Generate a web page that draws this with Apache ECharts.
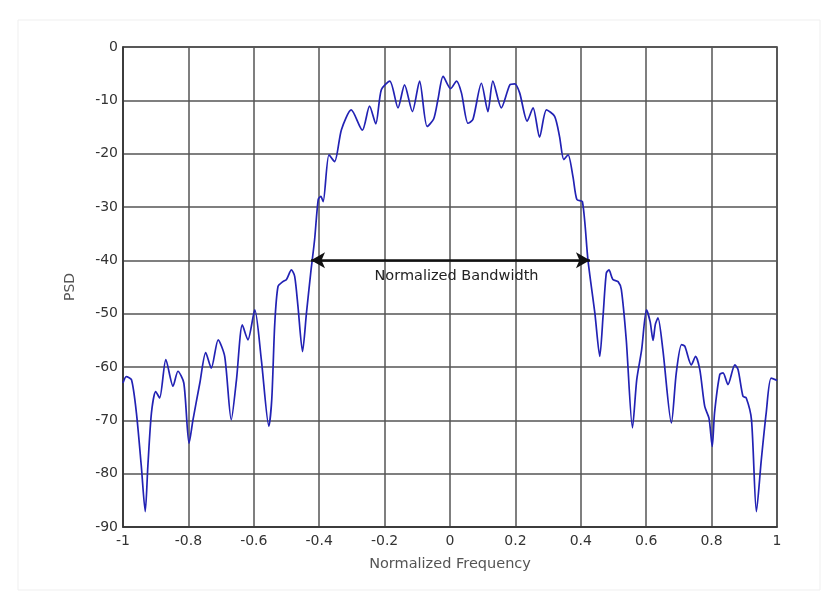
<!DOCTYPE html>
<html>
<head>
<meta charset="utf-8">
<title>PSD</title>
<script src="https://cdn.jsdelivr.net/npm/echarts@6/dist/echarts.min.js"></script>
<style>
  html, body { margin: 0; padding: 0; background: #ffffff; }
  #chart { width: 838px; height: 608px; }
</style>
</head>
<body>
<div id="chart"></div>
<script>
// Normalized frequency samples of the spectrum trace
const freq = [
  -1.000, -0.990, -0.974, -0.959, -0.944, -0.932, -0.924, -0.913, -0.900, -0.888,
  -0.869, -0.847, -0.832, -0.814, -0.798, -0.786, -0.765, -0.747, -0.730, -0.709,
  -0.689, -0.669, -0.653, -0.635, -0.618, -0.597, -0.577, -0.554, -0.545, -0.536,
  -0.526, -0.511, -0.500, -0.485, -0.475, -0.465, -0.451, -0.439, -0.426, -0.414,
  -0.403, -0.395, -0.388, -0.370, -0.353, -0.332, -0.302, -0.268, -0.246, -0.227,
  -0.210, -0.184, -0.159, -0.139, -0.115, -0.093, -0.070, -0.050, -0.037, -0.021,
   0.002,  0.020,  0.035,  0.055,  0.070,  0.096,  0.116,  0.131,  0.157,  0.183,
   0.198,  0.213,  0.236,  0.254,  0.274,  0.295,  0.320,  0.335,  0.348,  0.361,
   0.376,  0.388,  0.405,  0.422,  0.443,  0.458,  0.468,  0.478,  0.486,  0.498,
   0.514,  0.524,  0.539,  0.558,  0.571,  0.586,  0.601,  0.612,  0.621,  0.628,
   0.636,  0.651,  0.677,  0.692,  0.708,  0.718,  0.738,  0.751,  0.764,  0.779,
   0.792,  0.802,  0.809,  0.825,  0.835,  0.850,  0.871,  0.881,  0.896,  0.906,
   0.922,  0.937,  0.952,  0.967,  0.982,  1.000
];

// Power spectral density at each frequency sample (dB)
const psd = [
  -63.0, -61.8, -62.4, -68.6, -78.6, -87.1, -78.6, -68.6, -64.6, -65.8,
  -58.6, -63.6, -60.8, -63.0, -74.3, -69.9, -63.0, -57.3, -60.2, -54.9,
  -58.0, -69.9, -62.4, -52.1, -54.9, -49.3, -58.6, -71.1, -66.0, -52.0,
  -44.9, -44.0, -43.6, -41.8, -43.0, -48.6, -57.1, -49.9, -42.4, -36.1,
  -28.6, -28.0, -29.0, -20.2, -21.5, -15.5, -11.8, -15.6, -11.1, -14.4,
   -8.0,  -6.4, -11.4,  -7.1, -12.1,  -6.4, -14.9, -13.5,  -9.9,  -5.5,
   -7.8,  -6.4,  -8.6, -14.3, -13.6,  -6.8, -12.1,  -6.4, -11.4,  -7.1,
   -6.9,  -8.6, -13.9, -11.4, -16.9, -11.8, -13.0, -16.8, -21.1, -20.2,
  -24.3, -28.6, -29.0, -40.0, -49.9, -58.0, -50.5, -42.4, -41.8, -43.6,
  -44.0, -45.5, -54.9, -71.4, -62.4, -56.8, -49.3, -51.5, -55.0, -52.0,
  -50.8, -56.8, -70.5, -61.1, -55.8, -56.1, -59.6, -58.0, -60.5, -67.4,
  -69.6, -74.9, -68.6, -61.4, -61.1, -63.3, -59.6, -60.5, -65.5, -65.8,
  -69.9, -87.1, -77.4, -68.6, -62.1, -62.5
];

// Bandwidth marker: both ends at the -40 dB crossing
const bandEdges = [-0.425, 0.428];
const bandLevel = [-40, -40];
const bandLabel = 'Normalized Bandwidth';

const xName = 'Normalized Frequency';
const yName = 'PSD';

const points = freq.map((f, i) => [f, psd[i]]);

const chart = echarts.init(document.getElementById('chart'), null, { renderer: 'canvas' });

const tickFont = { color: '#333', fontFamily: 'DejaVu Sans', fontSize: 14 };

chart.setOption({
  animation: false,
  backgroundColor: '#ffffff',
  graphic: [{
    type: 'rect',
    shape: { x: 18, y: 20, width: 802, height: 570 },
    style: { fill: 'none', stroke: '#efefef', lineWidth: 1 },
    silent: true
  }],
  grid: {
    left: 123, right: 61, top: 47, bottom: 81,
    show: true, borderColor: '#333', borderWidth: 1.5,
    containLabel: false
  },
  xAxis: {
    type: 'value',
    min: -1, max: 1, interval: 0.2,
    name: xName,
    nameLocation: 'middle',
    nameGap: 30,
    nameTextStyle: { color: '#555', fontFamily: 'DejaVu Sans', fontSize: 14.5 },
    axisLine: { show: true, onZero: false, lineStyle: { color: '#333', width: 1.5 } },
    axisTick: { show: false },
    axisLabel: Object.assign({ margin: 7 }, tickFont),
    splitLine: { show: true, lineStyle: { color: '#555', width: 1.5 } }
  },
  yAxis: {
    type: 'value',
    min: -90, max: 0, interval: 10,
    name: yName,
    nameLocation: 'middle',
    nameGap: 46,
    nameTextStyle: { color: '#555', fontFamily: 'DejaVu Sans', fontSize: 14 },
    axisLine: { show: true, onZero: false, lineStyle: { color: '#333', width: 1.5 } },
    axisTick: { show: false },
    axisLabel: Object.assign({ margin: 5 }, tickFont),
    splitLine: { show: true, lineStyle: { color: '#555', width: 1.5 } }
  },
  series: [{
    type: 'line',
    data: points,
    smooth: 0.25,
    showSymbol: false,
    lineStyle: { color: '#2222b4', width: 1.7 },
    markLine: {
      silent: true,
      symbol: ['arrow', 'arrow'],
      symbolSize: [12, 14],
      lineStyle: { color: '#111', width: 2.5, type: 'solid' },
      label: {
        show: true,
        position: 'insideMiddleBottom',
        distance: 8,
        padding: [0, 0, 0, 12],
        formatter: bandLabel,
        color: '#222',
        fontFamily: 'DejaVu Sans',
        fontSize: 14.5
      },
      data: [[
        { coord: [bandEdges[0], bandLevel[0]] },
        { coord: [bandEdges[1], bandLevel[1]] }
      ]]
    }
  }]
});
</script>
</body>
</html>
